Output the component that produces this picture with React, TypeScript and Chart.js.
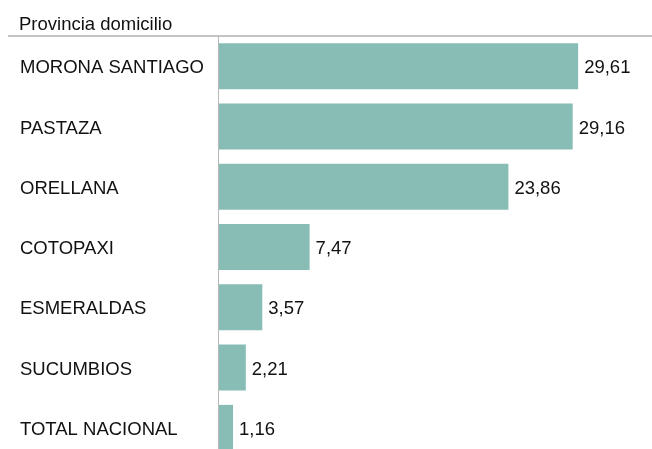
import React, { useEffect, useRef } from "react";
import { Chart, registerables } from "chart.js";

Chart.register(...registerables);

const categories = [
  "MORONA SANTIAGO",
  "PASTAZA",
  "ORELLANA",
  "COTOPAXI",
  "ESMERALDAS",
  "SUCUMBIOS",
  "TOTAL NACIONAL",
];
const values = [29.61, 29.16, 23.86, 7.47, 3.57, 2.21, 1.16];
const headerTitle = "Provincia domicilio";

const W = 652;
const H = 470;
const FONT = "'Liberation Sans', Arial, sans-serif";
const FS = 18.5;

const fmt = (v: number) => v.toFixed(2).replace(".", ",");

const decorPlugin = {
  id: "decor",
  afterDraw(chart: any) {
    const ctx = chart.ctx;
    ctx.save();
    // header text
    ctx.fillStyle = "#111";
    ctx.font = `${FS}px ${FONT}`;
    ctx.textAlign = "left";
    ctx.textBaseline = "alphabetic";
    ctx.fillText(headerTitle, 19, 30);
    // header line
    ctx.strokeStyle = "#b0b0b0";
    ctx.lineWidth = 1.5;
    ctx.beginPath();
    ctx.moveTo(8, 36);
    ctx.lineTo(W, 36);
    ctx.stroke();
    // vertical axis line
    ctx.strokeStyle = "#b8b8b8";
    ctx.lineWidth = 1;
    ctx.beginPath();
    ctx.moveTo(218.5, 36);
    ctx.lineTo(218.5, H);
    ctx.stroke();
    // value labels
    const meta = chart.getDatasetMeta(0);
    ctx.fillStyle = "#111";
    ctx.font = `${FS}px ${FONT}`;
    ctx.textBaseline = "middle";
    meta.data.forEach((bar: any, i: number) => {
      ctx.fillText(fmt(values[i]), bar.x + 6, bar.y + 2);
    });
    ctx.restore();
  },
};

export default function App() {
  const ref = useRef<HTMLCanvasElement>(null);
  useEffect(() => {
    document.body.style.margin = "0";
    document.body.style.overflow = "hidden";
    const chart = new Chart(ref.current!, {
      type: "bar",
      data: {
        labels: categories,
        datasets: [
          {
            data: values,
            backgroundColor: "#88bdb5",
            borderWidth: 0,
            barPercentage: 0.763,
            categoryPercentage: 1,
          },
        ],
      },
      options: {
        indexAxis: "y",
        responsive: false,
        animation: false,
        devicePixelRatio: 1,
        layout: { padding: { top: 36, left: 20, right: 0, bottom: H - 458 } },
        plugins: {
          legend: { display: false },
          tooltip: { enabled: false },
        },
        scales: {
          x: {
            display: false,
            min: 0,
            max: 35.7,
          },
          y: {
            grid: { display: false, drawTicks: false },
            border: { display: false },
            ticks: {
              crossAlign: "far",
              color: "#111",
              font: { family: FONT, size: FS },
              padding: 0,
              labelOffset: 2,
            },
            afterFit(scale: any) {
              scale.width = 199;
            },
          },
        },
      },
      plugins: [decorPlugin],
    } as any);
    return () => chart.destroy();
  }, []);
  return (
    <div style={{ width: W, height: 449, overflow: "hidden" }}>
      <canvas ref={ref} width={W} height={H} style={{ display: "block" }} />
    </div>
  );
}
